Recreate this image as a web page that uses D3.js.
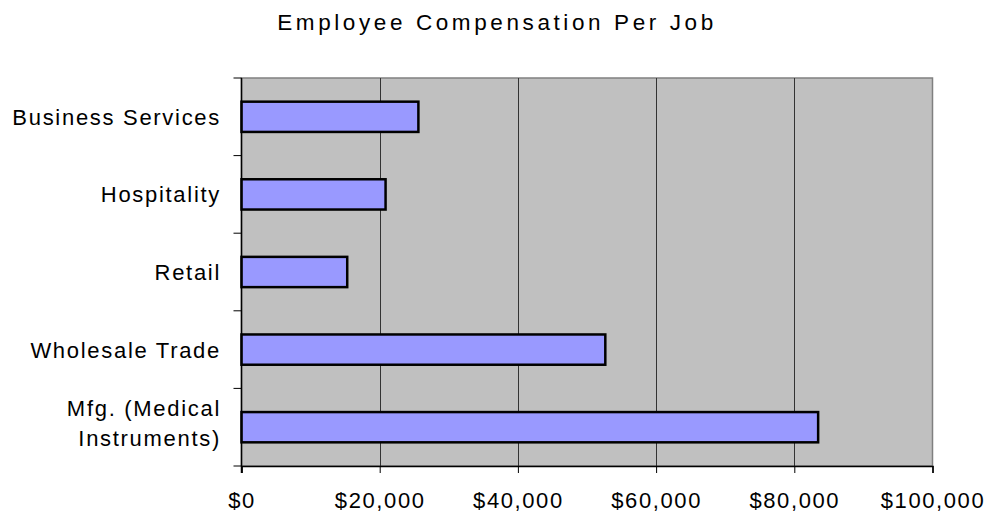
<!DOCTYPE html>
<html>
<head>
<meta charset="utf-8">
<script src="https://cdn.jsdelivr.net/npm/d3@7"></script>
<style>
  body { margin: 0; background: #fff; }
  text { font-family: "Liberation Sans", Arial, sans-serif; fill: #000; }
</style>
</head>
<body>
<script>
/* Data */
var categories = ["Business Services", "Hospitality", "Retail", "Wholesale Trade", "Mfg. (Medical Instruments)"],
	labelLines = [["Business Services"], ["Hospitality"], ["Retail"], ["Wholesale Trade"], ["Mfg. (Medical", "Instruments)"]],
	values = [25600, 20850, 15300, 52650, 83450],
	xTicks = [0, 20000, 40000, 60000, 80000, 100000];

/* Display setup */
var width = 989, height = 514,
	plot = {left: 241.5, right: 932.5, top: 78, bottom: 466},
	svg = d3.select("body").append("svg")
		.attr("width", width)
		.attr("height", height);

var x = d3.scaleLinear().domain([0, 100000]).range([plot.left, plot.right]),
	y = d3.scaleBand().domain(categories).range([plot.top, plot.bottom])
		.paddingInner(0.61).paddingOuter(0.305);

// plot background
svg.append("rect")
	.attr("x", plot.left)
	.attr("y", plot.top)
	.attr("width", plot.right - plot.left)
	.attr("height", plot.bottom - plot.top)
	.style("fill", "#c0c0c0")
	.style("stroke", "#808080")
	.style("stroke-width", 1.5);

// gridlines
svg.append("g")
	.selectAll("line")
	.data(xTicks.slice(1, -1))
	.enter().append("line")
		.attr("x1", function(d) { return Math.round(x(d)) + 0.5; })
		.attr("x2", function(d) { return Math.round(x(d)) + 0.5; })
		.attr("y1", plot.top)
		.attr("y2", plot.bottom)
		.style("stroke", "#333")
		.style("stroke-width", 1);

// bars
svg.append("g")
	.selectAll("rect")
	.data(values)
	.enter().append("rect")
		.attr("x", x(0))
		.attr("y", function(d, i) { return y(categories[i]); })
		.attr("width", function(d) { return x(d) - x(0); })
		.attr("height", y.bandwidth())
		.style("fill", "#9999ff")
		.style("stroke", "#000")
		.style("stroke-width", 2.5);

// x axis
var xAxis = svg.append("g")
	.attr("transform", "translate(0," + plot.bottom + ")")
	.call(d3.axisBottom(x).tickValues(xTicks).tickSizeOuter(0).tickSize(7)
		.tickFormat(function(d) { return "$" + d3.format(",")(d); }));
xAxis.select(".domain").style("stroke", "#000").style("stroke-width", 1.5);
xAxis.selectAll(".tick line").style("stroke", "#000");
xAxis.selectAll(".tick text")
	.attr("y", 42)
	.attr("dy", 0)
	.style("font-size", "22px")
	.style("letter-spacing", "1.6px")
	.style("font-family", "Liberation Sans, Arial, sans-serif");

// y axis: ticks between categories
var yBounds = d3.range(categories.length + 1).map(function(i) { return plot.top + i * y.step(); });
svg.append("line")
	.attr("x1", plot.left).attr("x2", plot.left)
	.attr("y1", plot.top).attr("y2", plot.bottom + 7)
	.style("stroke", "#000").style("stroke-width", 1.5);
svg.append("g")
	.selectAll("line")
	.data(yBounds)
	.enter().append("line")
		.attr("x1", plot.left - 8)
		.attr("x2", plot.left)
		.attr("y1", function(d) { return d; })
		.attr("y2", function(d) { return d; })
		.style("stroke", "#000");

// category labels
var labels = svg.append("g")
	.selectAll("text")
	.data(categories)
	.enter().append("text")
		.attr("x", 221)
		.attr("y", function(d) { return y(d) + y.bandwidth() / 2; })
		.attr("text-anchor", "end")
		.style("font-size", "22px")
		.style("letter-spacing", "1.7px");

labels.each(function(d, i) {
	var lines = labelLines[i], t = d3.select(this);
	lines.forEach(function(line, j) {
		t.append("tspan")
			.attr("x", 221)
			.attr("dy", j == 0 ? (lines.length == 1 ? 8 : -11) : 30)
			.text(line);
	});
});

// title
svg.append("text")
	.attr("x", 497)
	.attr("y", 30)
	.attr("text-anchor", "middle")
	.style("font-size", "22.5px")
	.style("letter-spacing", "3.6px")
	.text("Employee Compensation Per Job");
</script>
</body>
</html>
